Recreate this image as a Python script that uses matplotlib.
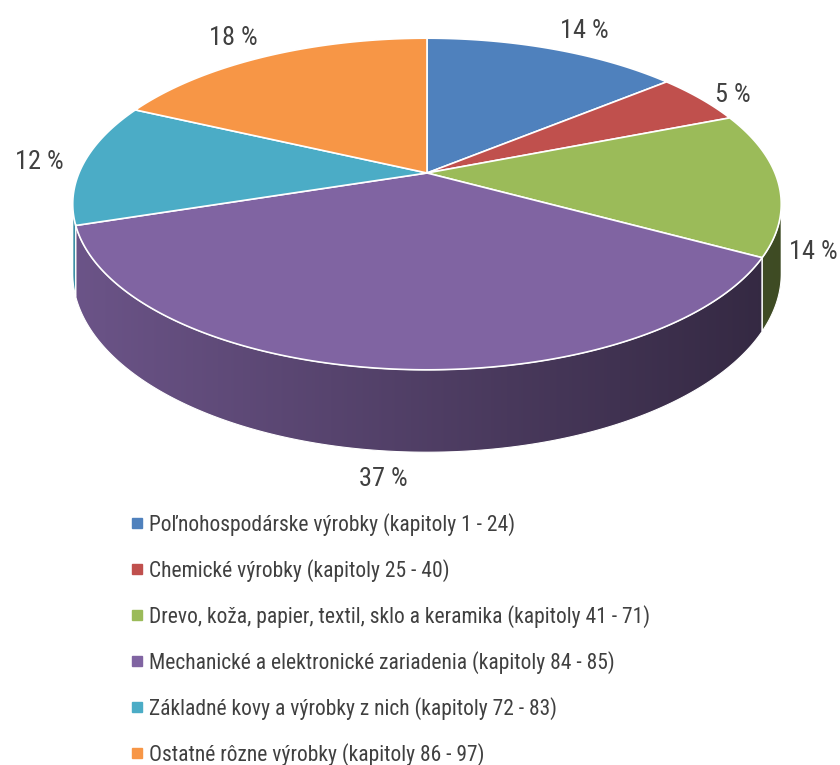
import matplotlib
matplotlib.use('Agg')
import matplotlib.pyplot as plt
import numpy as np
from matplotlib.patches import Polygon
from matplotlib.lines import Line2D

plt.rcParams['font.family'] = ['Roboto Condensed', 'Noto Sans Condensed', 'Open Sans Condensed',
                               'Liberation Sans Narrow', 'Arial Narrow', 'Liberation Sans', 'DejaVu Sans']

# data
categories = [
    'Poľnohospodárske výrobky (kapitoly 1 - 24)',
    'Chemické výrobky (kapitoly 25 - 40)',
    'Drevo, koža, papier, textil, sklo a keramika (kapitoly 41 - 71)',
    'Mechanické a elektronické zariadenia (kapitoly 84 - 85)',
    'Základné kovy a výrobky z nich (kapitoly 72 - 83)',
    'Ostatné rôzne výrobky (kapitoly 86 - 97)',
]
shares = [14, 5, 14, 37, 12, 18]
colors = ['#4f81bd', '#c0504d', '#9bbb59', '#8064a2', '#4bacc6', '#f79646']

# pie geometry in pixel space (perspective view of a flat disc)
CX, CY = 427, 173
A, B = 348, 160
K = 0.187
DEPTH = 67
W, H = 840, 765


def project(theta, r=1.0):
    X = r * np.sin(theta)
    Y = r * np.cos(theta)
    den = 1 + K * Y
    return CX + A * X / den, CY - B * Y / den, DEPTH / den


def shade(base, u):
    t = (u - (CX - 354)) / 708.0
    f = 0.84 - 0.44 * t
    rgb = np.array(matplotlib.colors.to_rgb(base))
    return np.clip(rgb[None, :] * f[:, None], 0, 1)


fig = plt.figure(figsize=(W / 100, H / 100), dpi=100)
ax = fig.add_axes([0, 0, 1, 1])
ax.set_xlim(0, W)
ax.set_ylim(H, 0)
ax.axis('off')

vals = np.array(shares, dtype=float)
bounds = np.concatenate([[0], np.cumsum(vals) / vals.sum()]) * 2 * np.pi
vis_a = np.arccos(-K)
vis_b = 2 * np.pi - vis_a

# side walls, shaded left to right
gx = np.linspace(CX - 354, CX + 354, 400)
for i, c in enumerate(colors):
    a, b = max(bounds[i], vis_a), min(bounds[i + 1], vis_b)
    if b <= a:
        continue
    th = np.linspace(a, b, 200)
    u, v, d = project(th)
    pts = np.column_stack([np.concatenate([u, u[::-1]]),
                           np.concatenate([v, (v + d)[::-1]])])
    poly = Polygon(pts, closed=True, facecolor='none', edgecolor='white', lw=0.8, zorder=2)
    ax.add_patch(poly)
    grad = shade(c, gx)[None, :, :]
    im = ax.imshow(grad, extent=(gx[0], gx[-1], H, 0), aspect='auto', zorder=1)
    im.set_clip_path(poly)

# top faces
for i, c in enumerate(colors):
    th = np.linspace(bounds[i], bounds[i + 1], 200)
    u, v, _ = project(th)
    pts = np.column_stack([np.concatenate([[CX], u]), np.concatenate([[CY], v])])
    ax.add_patch(Polygon(pts, closed=True, facecolor=c, edgecolor='white', lw=1.2, zorder=3))

ax.set_xlim(0, W)
ax.set_ylim(H, 0)

# percentage labels
renderer = fig.canvas.get_renderer()
for i, s in enumerate(shares):
    mid = (bounds[i] + bounds[i + 1]) / 2
    u, v, d = project(mid, 1.06)
    X, Y = np.sin(mid), np.cos(mid)
    if Y < 0:
        v = v + d
    ha = 'left' if X > 0.3 else ('right' if X < -0.3 else 'center')
    va = 'bottom' if Y > 0.7 else ('top' if Y < -0.7 else 'center')
    t = ax.text(u, v, f'{s} %', ha=ha, va=va, fontsize=19, color='#404040', zorder=5)
    ext = t.get_window_extent(renderer)
    if ext.x1 > W - 2:
        t.set_x(u - (ext.x1 - (W - 2)))

fs = 15.5
handles = [Line2D([], [], marker='s', ls='none', color=c, markersize=6.5) for c in colors]
fig.legend(handles, categories, loc='upper left', bbox_to_anchor=(123.5 / W, 1 - 504 / H),
           frameon=False, fontsize=fs, labelcolor='#404040', handlelength=0.5,
           handletextpad=0.29, labelspacing=1.07, borderaxespad=0)

fig.savefig('out.png', dpi=100)
